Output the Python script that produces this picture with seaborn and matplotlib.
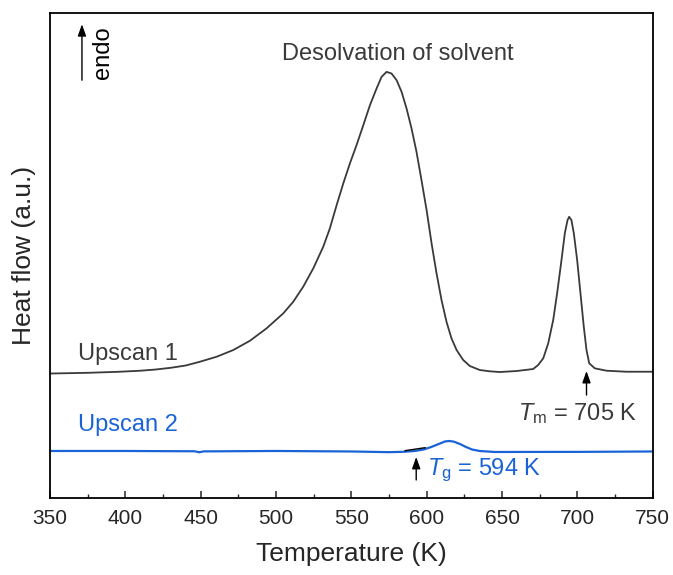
import pandas as pd
import matplotlib.pyplot as plt
import seaborn as sns
from matplotlib.ticker import MultipleLocator

# Upscan 1 (first heating), heat flow in arbitrary units
temp_1 = [350, 375, 395, 410, 420, 430, 440, 449.5, 460.6, 471.6, 482.7, 493.7,
          504.8, 511.4, 518.0, 524.7, 531.3, 535.7, 540.2, 544.6, 549.0, 553.4, 557.9,
          562.3, 566.7, 570.0, 573.3, 576.6, 580.0, 583.3, 586.6, 589.9, 593.2, 596.5,
          599.9, 603.2, 606.5, 609.8, 613.1, 616.4, 619.8, 624.2, 628.6, 635.2, 641.9,
          648.5, 659.6, 670.6, 673.9, 677.3, 680.6, 683.9, 686.5, 689.4, 691.6, 693.4,
          694.5, 696.0, 697.6, 699.8, 702.0, 704.2, 706.0, 707.8, 711.5, 719.3, 732.5,
          750]
flow_1 = [1.265, 1.272, 1.282, 1.293, 1.305, 1.322, 1.345, 1.383, 1.433, 1.50, 1.593,
          1.717, 1.867, 1.983, 2.133, 2.317, 2.533, 2.717, 2.95, 3.167, 3.367, 3.55,
          3.75, 3.95, 4.117, 4.233, 4.283, 4.267, 4.20, 4.083, 3.917, 3.717, 3.483,
          3.20, 2.90, 2.567, 2.267, 2.00, 1.783, 1.617, 1.50, 1.40, 1.34, 1.30, 1.287,
          1.28, 1.29, 1.31, 1.35, 1.417, 1.567, 1.80, 2.067, 2.40, 2.667, 2.80,
          2.833, 2.80, 2.667, 2.40, 2.067, 1.733, 1.50, 1.367, 1.317, 1.293, 1.283,
          1.283]

# Upscan 2 (second heating)
temp_2 = [350, 400, 446, 449, 452, 500, 550, 575, 585, 592, 598, 603, 608, 612, 615,
          618, 622, 626, 630, 635, 645, 700, 750]
flow_2 = [0.49, 0.49, 0.487, 0.477, 0.486, 0.49, 0.485, 0.478, 0.482, 0.49, 0.505,
          0.53, 0.56, 0.585, 0.59, 0.583, 0.56, 0.53, 0.505, 0.49, 0.48, 0.481, 0.485]

# tangent used for the Tg onset
tangent_t = [585.5, 599]
tangent_f = [0.493, 0.523]

dark = "#3a3a3a"
blue = "#1a63d6"

sns.set_style("ticks")
plt.rcParams["font.family"] = ["Liberation Sans", "DejaVu Sans"]
plt.rcParams["mathtext.fontset"] = "custom"
plt.rcParams["mathtext.rm"] = "Liberation Sans"
plt.rcParams["mathtext.it"] = "Liberation Sans:italic"

df1 = pd.DataFrame({"T": temp_1, "q": flow_1})
df2 = pd.DataFrame({"T": temp_2, "q": flow_2})

fig = plt.figure(figsize=(6.73, 5.75), dpi=100)
ax = fig.add_axes([0.0743, 0.134, 0.8957, 0.843])

sns.lineplot(data=df1, x="T", y="q", ax=ax, color=dark, lw=1.3, sort=False, estimator=None)
sns.lineplot(data=df2, x="T", y="q", ax=ax, color=blue, lw=1.6, sort=False, estimator=None)
ax.plot(tangent_t, tangent_f, color="black", lw=1.0)

ax.set_xlim(350, 750)
ax.set_ylim(0.02, 4.87)
ax.xaxis.set_major_locator(MultipleLocator(50))
ax.xaxis.set_minor_locator(MultipleLocator(25))
ax.tick_params(axis="x", which="major", direction="in", length=5, width=1.1,
               labelsize=15, pad=8, top=False)
ax.tick_params(axis="x", which="minor", direction="in", length=3, width=1.0, top=False)
ax.set_yticks([])
for s in ax.spines.values():
    s.set_linewidth(1.3)
    s.set_color("black")

ax.set_xlabel("Temperature (K)", fontsize=19, labelpad=10)
ax.set_ylabel("Heat flow (a.u.)", fontsize=19, labelpad=10)

ax.text(580.8, 4.40, "Desolvation of solvent", fontsize=17, color=dark,
        ha="center", va="baseline")
ax.text(368.6, 1.40, "Upscan 1", fontsize=17, color=dark, ha="left", va="baseline")
ax.text(368.6, 0.69, "Upscan 2", fontsize=17, color=blue, ha="left", va="baseline")

arrow = dict(arrowstyle="-|>,head_width=0.25,head_length=0.7", color="black", lw=1.0,
             shrinkA=0, shrinkB=0)

# endo arrow
ax.annotate("", xy=(371.2, 4.76), xytext=(371.2, 4.20), arrowprops=arrow)
ax.text(385.2, 4.48, "endo", fontsize=17, rotation=90, ha="center", va="center",
        color="black")

# Tm arrow
ax.annotate("", xy=(706, 1.29), xytext=(706, 1.05), arrowprops=arrow)
ax.text(700.2, 0.80, r"$T_\mathrm{m}$ = 705 K", fontsize=17, color=dark,
        ha="center", va="baseline")

# Tg arrow
ax.annotate("", xy=(593, 0.43), xytext=(593, 0.20), arrowprops=arrow)
ax.text(600.1, 0.25, r"$T_\mathrm{g}$ = 594 K", fontsize=17, color=blue,
        ha="left", va="baseline")

fig.savefig("out.png", dpi=100)
